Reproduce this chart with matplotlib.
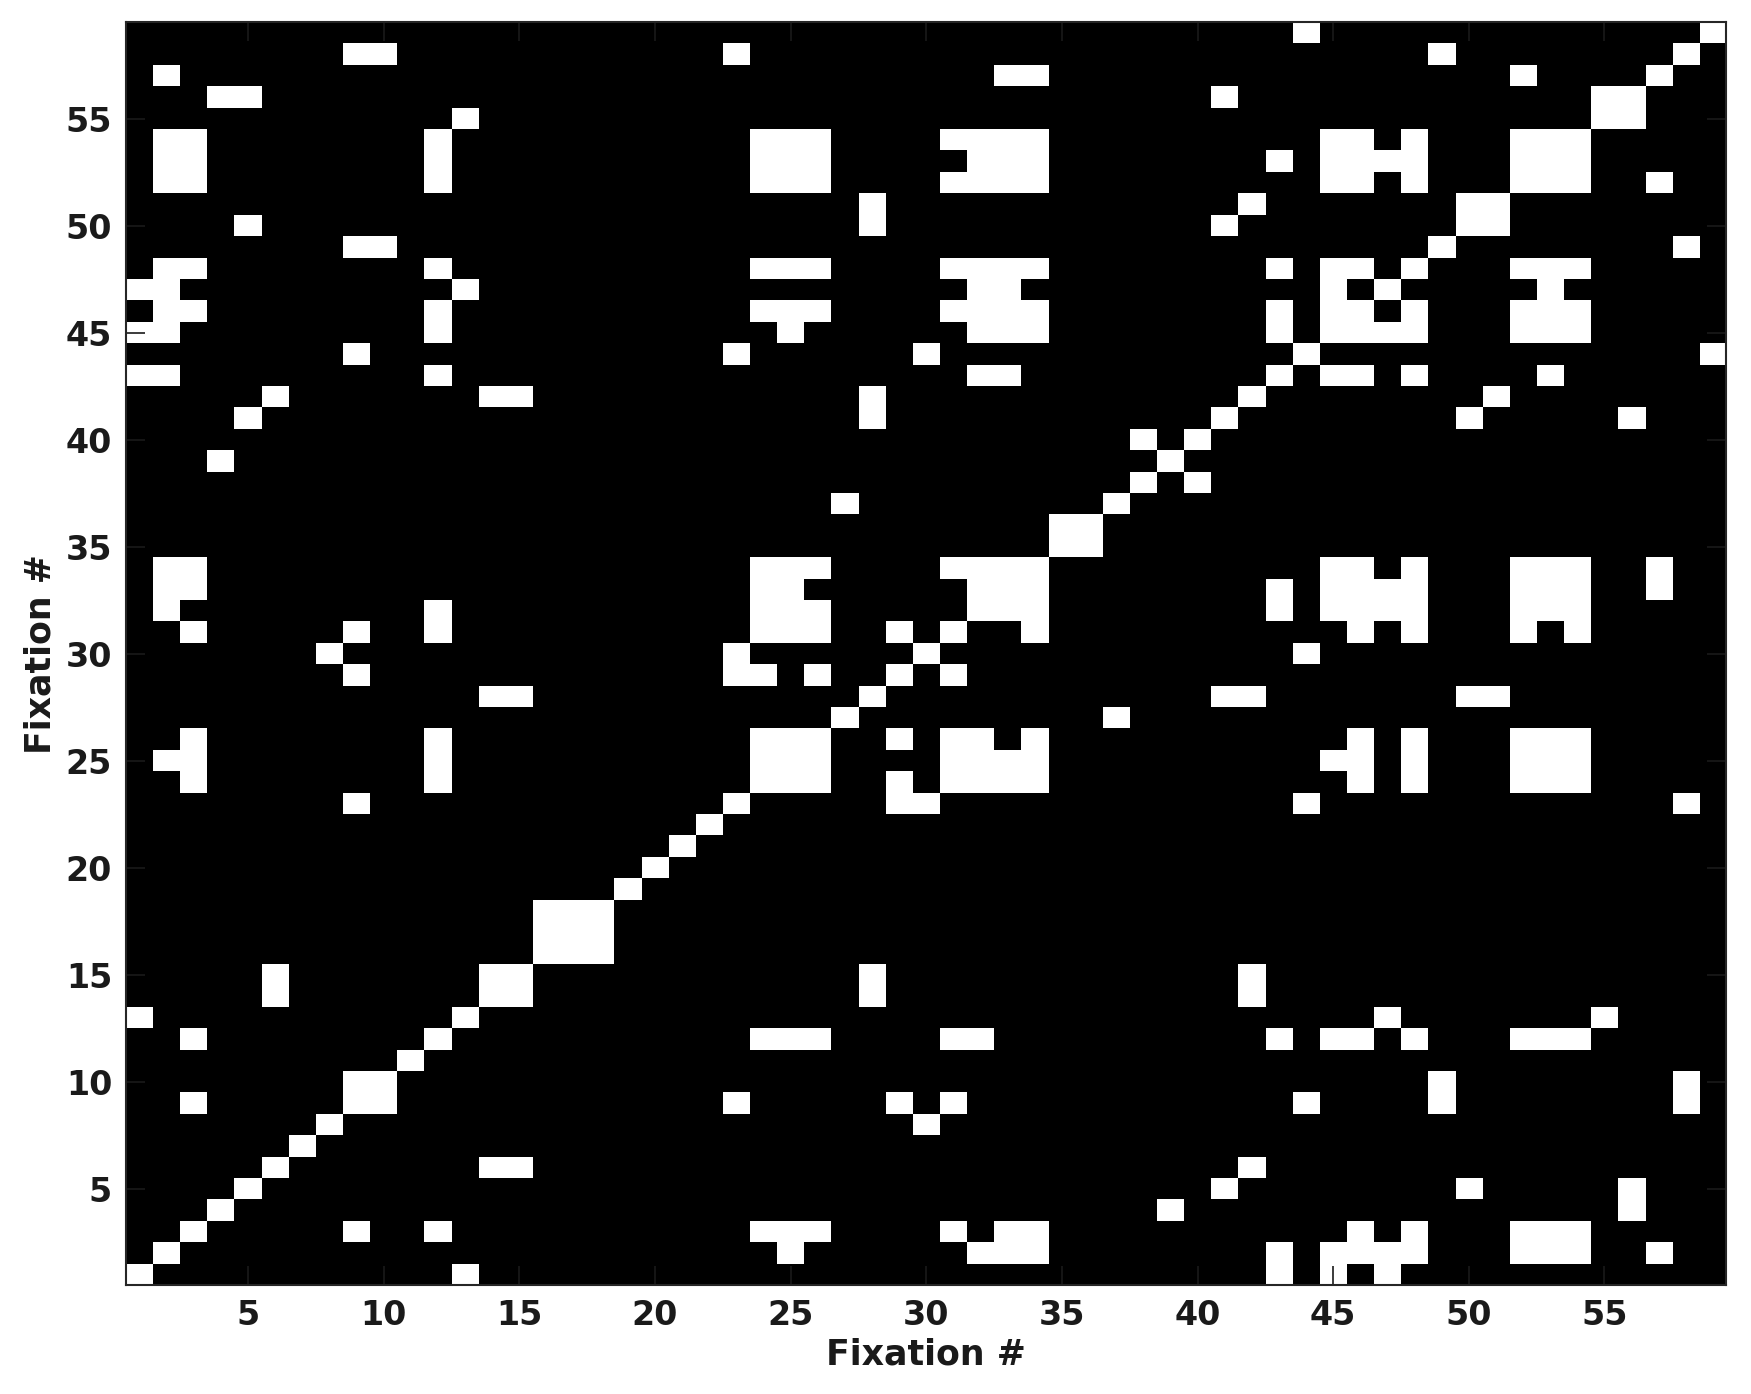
import numpy as np
import matplotlib.pyplot as plt

plt.rcParams['font.family'] = ['DejaVu Sans']
plt.rcParams['font.weight'] = 'bold'

n_fix = 59

# fixation -> later fixations that fall on the same spot (upper triangle)
recurrences = {
    1: [13, 43, 45, 47],
    2: [25, 32, 33, 34, 43, 45, 46, 47, 48, 52, 53, 54, 57],
    3: [9, 12, 24, 25, 26, 31, 33, 34, 46, 48, 52, 53, 54],
    4: [39, 56],
    5: [41, 50, 56],
    6: [14, 15, 42],
    8: [30],
    9: [10, 23, 29, 31, 44, 49, 58],
    10: [49, 58],
    12: [24, 25, 26, 31, 32, 43, 45, 46, 48, 52, 53, 54],
    13: [47, 55],
    14: [15, 28, 42],
    15: [28, 42],
    16: [17, 18],
    17: [18],
    23: [29, 30, 44, 58],
    24: [25, 26, 29, 31, 32, 33, 34, 46, 48, 52, 53, 54],
    25: [26, 31, 32, 33, 34, 45, 46, 48, 52, 53, 54],
    26: [29, 31, 32, 34, 46, 48, 52, 53, 54],
    27: [37],
    28: [41, 42, 50, 51],
    29: [31],
    30: [44],
    31: [34, 46, 48, 52, 54],
    32: [33, 34, 43, 45, 46, 47, 48, 52, 53, 54],
    33: [34, 43, 45, 46, 47, 48, 52, 53, 54, 57],
    34: [45, 46, 48, 52, 53, 54, 57],
    35: [36],
    38: [40],
    41: [50, 56],
    42: [51],
    43: [45, 46, 48, 53],
    44: [59],
    45: [46, 47, 48, 52, 53, 54],
    46: [48, 52, 53, 54],
    47: [53],
    48: [52, 53, 54],
    49: [58],
    50: [51],
    52: [53, 54, 57],
    53: [54],
    55: [56],
}

# build symmetric recurrence matrix
rec = np.eye(n_fix)
for i, others in recurrences.items():
    for j in others:
        rec[i - 1, j - 1] = 1
        rec[j - 1, i - 1] = 1

fig = plt.figure(figsize=(17.51, 13.94), dpi=100)
ax = fig.add_axes([0.072, 0.078, 0.914, 0.906])

ax.imshow(rec, cmap='gray', origin='lower', interpolation='nearest',
          extent=(0.5, n_fix + 0.5, 0.5, n_fix + 0.5), aspect='auto')

ax.set_xticks(range(5, 60, 5))
ax.set_yticks(range(5, 60, 5))
ax.tick_params(direction='in', top=True, right=True, length=14, width=1.2,
               labelsize=24, colors='#1a1a1a', pad=10)
for side in ax.spines.values():
    side.set_linewidth(1.5)
    side.set_color('#262626')

ax.set_xlabel('Fixation #', fontsize=25, fontweight='bold', color='#1a1a1a', labelpad=4)
ax.set_ylabel('Fixation #', fontsize=25, fontweight='bold', color='#1a1a1a', labelpad=6)

fig.savefig('out.png', dpi=100)
